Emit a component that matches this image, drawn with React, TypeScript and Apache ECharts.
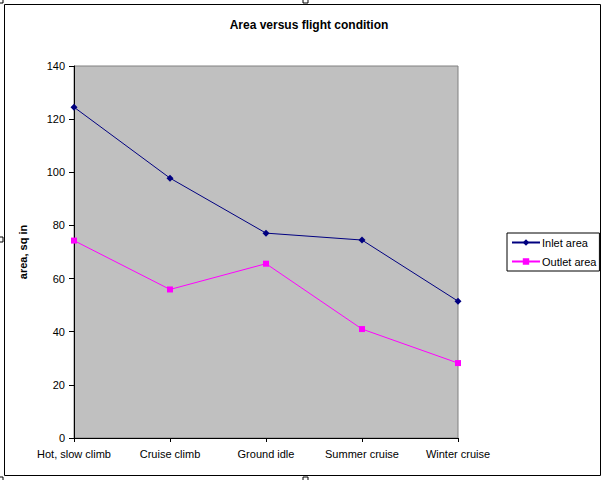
import React, { useEffect, useRef } from 'react';
import * as echarts from 'echarts';

const categories = ['Hot, slow climb', 'Cruise climb', 'Ground idle', 'Summer cruise', 'Winter cruise'];
const inletArea = [124.5, 97.8, 77.1, 74.5, 51.5];
const outletArea = [74.3, 55.9, 65.6, 41.0, 28.2];
const seriesNames = ['Inlet area', 'Outlet area'];

const FONT = 'Arial, "Liberation Sans", sans-serif';

// little selection handles around the chart frame
const handle = (x: number, y: number) => ({
  type: 'rect',
  shape: { x, y, width: 5, height: 5 },
  style: { fill: '#fff', stroke: '#000', lineWidth: 1 },
  silent: true,
});

const App: React.FC = () => {
  const chartRef = useRef<HTMLDivElement>(null);

  useEffect(() => {
    const chart = echarts.init(chartRef.current!, null, { renderer: 'svg' });

    chart.setOption({
      animation: false,
      backgroundColor: '#fff',
      textStyle: { fontFamily: FONT },
      title: {
        text: 'Area versus flight condition',
        left: 304,
        textAlign: 'center',
        top: 14,
        textStyle: { fontSize: 12, fontWeight: 'bold', color: '#000', fontFamily: FONT },
      },
      legend: {
        data: seriesNames,
        orient: 'vertical',
        left: 507,
        top: 233,
        padding: [4, 3, 4, 4],
        itemGap: 8,
        itemWidth: 28,
        itemHeight: 8,
        borderColor: '#000',
        borderWidth: 1,
        backgroundColor: '#fff',
        textStyle: { fontSize: 11, color: '#000', fontFamily: FONT, padding: [0, 0, 0, -3] },
      },
      grid: {
        left: 74,
        right: 147,
        top: 66,
        bottom: 42,
        show: true,
        backgroundColor: '#C0C0C0',
        borderColor: '#808080',
        borderWidth: 1,
      },
      xAxis: {
        type: 'category',
        data: categories,
        boundaryGap: false,
        axisLine: { show: true, lineStyle: { color: '#000', width: 1 } },
        axisTick: { show: true, length: 4, lineStyle: { color: '#000' } },
        axisLabel: { fontSize: 11, color: '#000', margin: 10, fontFamily: FONT, interval: 0 },
        splitLine: { show: false },
      },
      yAxis: {
        type: 'value',
        min: 0,
        max: 140,
        interval: 20,
        name: 'area, sq in',
        nameLocation: 'middle',
        nameGap: 46,
        nameTextStyle: { fontSize: 11, fontWeight: 'bold', color: '#000', fontFamily: FONT },
        axisLine: { show: true, lineStyle: { color: '#000', width: 1 } },
        axisTick: { show: true, length: 5, lineStyle: { color: '#000' } },
        axisLabel: { fontSize: 11, color: '#000', margin: 9, fontFamily: FONT },
        splitLine: { show: false },
      },
      series: [
        {
          name: seriesNames[0],
          type: 'line',
          data: inletArea,
          symbol: 'diamond',
          symbolSize: 7,
          itemStyle: { color: '#000080' },
          lineStyle: { color: '#000080', width: 1 },
        },
        {
          name: seriesNames[1],
          type: 'line',
          data: outletArea,
          symbol: 'rect',
          symbolSize: 6,
          itemStyle: { color: '#FF00FF' },
          lineStyle: { color: '#FF00FF', width: 1 },
        },
      ],
      graphic: [
        {
          type: 'rect',
          shape: { x: 4.5, y: 4.5, width: 596, height: 471 },
          style: { fill: 'none', stroke: '#000', lineWidth: 1 },
          silent: true,
          z: -1,
        },
        handle(-2, -2),
        handle(303, -2),
        handle(-2, 237),
        handle(-2, 477),
        handle(303, 477),
      ],
    });

    return () => {
      chart.dispose();
    };
  }, []);

  return (
    <div
      ref={chartRef}
      style={{ position: 'fixed', left: 0, top: 0, width: '605px', height: '480px' }}
    />
  );
};

export default App;
